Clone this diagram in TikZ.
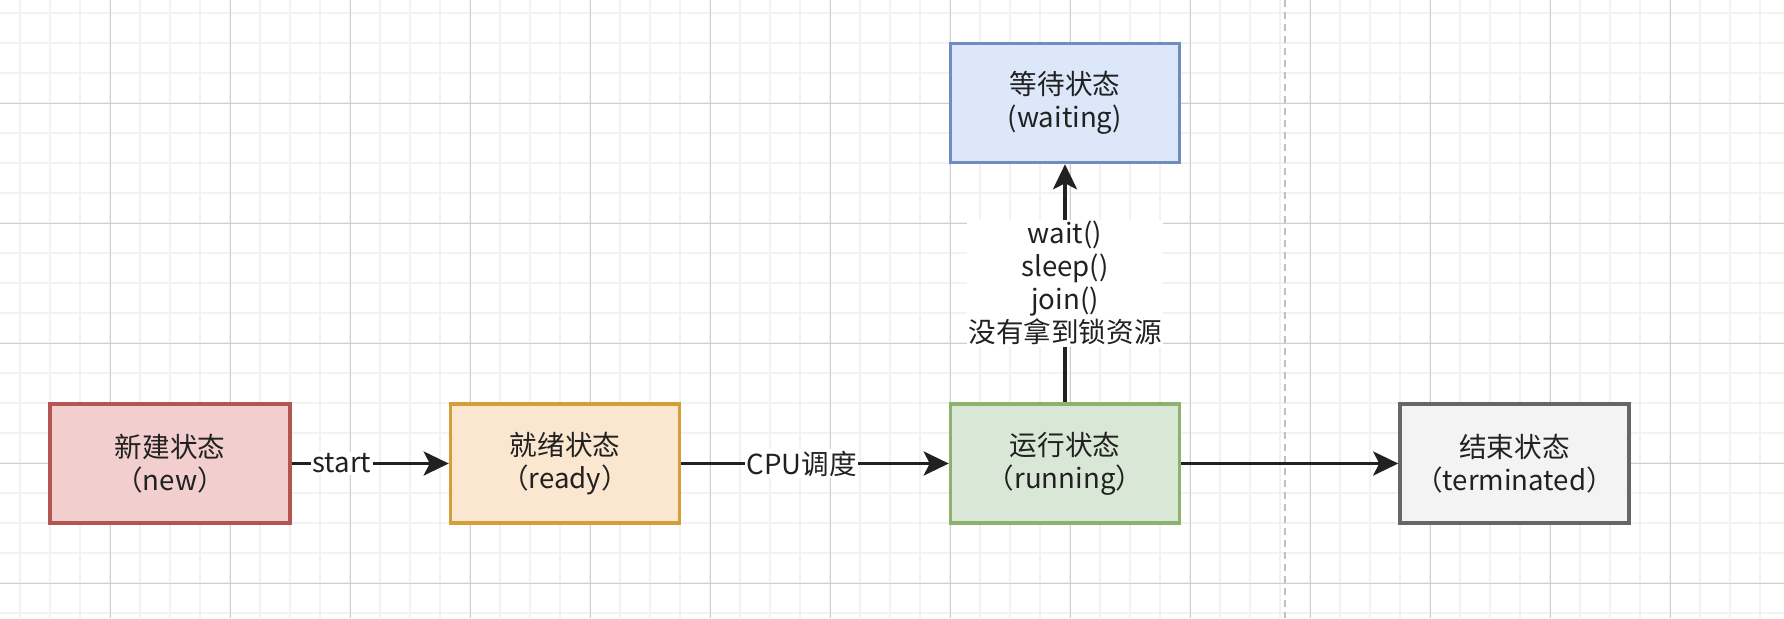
\documentclass[tikz,border=0pt]{standalone}
\usepackage{fontspec}
\setmainfont{Noto Sans CJK SC}
\usetikzlibrary{arrows.meta, positioning}

\definecolor{ink}{HTML}{212121}
\definecolor{newfill}{HTML}{F2CFCE}
\definecolor{newline}{HTML}{B35550}
\definecolor{readyfill}{HTML}{FBE6D0}
\definecolor{readyline}{HTML}{D49F38}
\definecolor{runfill}{HTML}{D9E7D6}
\definecolor{runline}{HTML}{8DB26D}
\definecolor{waitfill}{HTML}{DCE7F9}
\definecolor{waitline}{HTML}{6F8DBF}
\definecolor{endfill}{HTML}{F3F3F3}
\definecolor{endline}{HTML}{666666}

\tikzset{
  minorgrid/.style={line width=1pt, draw=black!5},
  majorgrid/.style={line width=0.5pt, draw=black!19},
  state/.style={rectangle, draw, line width=1.8pt, minimum width=114.5pt, minimum height=59.5pt,
    text=ink, align=center, font=\fontsize{13.8}{16.5}\selectfont},
  flow/.style={-{Stealth[length=12.5pt, width=12pt, inset=3pt]}, line width=1.7pt, draw=ink},
  lbl/.style={fill=white, inner sep=0.8pt, text=ink, align=center, font=\fontsize{13.8}{16.5}\selectfont},
  sepline/.style={line width=1pt, draw=black!25, dash pattern=on 3.5pt off 2.5pt}
}

\begin{document}
\begin{tikzpicture}[x=0.5pt, y=-0.5pt]
  \useasboundingbox (0,0) rectangle (1784,618);
  \fill[white] (0,0) rectangle (1784,618);

  % background grid
  \begin{scope}
    \clip (0,0) rectangle (1784,618);
    \foreach \gx in {20,50,...,1784} \draw[minorgrid] (\gx,0) -- (\gx,618);
    \foreach \gy in {13.3,43.3,...,618} \draw[minorgrid] (0,\gy) -- (1784,\gy);
    \foreach \gx in {110,230,...,1784} \draw[majorgrid] (\gx,0) -- (\gx,618);
    \foreach \gy in {103.3,223.3,...,618} \draw[majorgrid] (0,\gy) -- (1784,\gy);
  \end{scope}

  % separator
  \draw[sepline] (1285,0) -- (1285,618);

  % states
  \node[state, fill=newfill, draw=newline, minimum width=120pt] (new) at (170,463.5) {新建状态\\（new）};
  \node[state, fill=readyfill, draw=readyline] (ready) at (565,463.5) {就绪状态\\（ready）};
  \node[state, fill=runfill, draw=runline] (running) at (1065,463.5) {运行状态\\（running）};
  \node[state, fill=waitfill, draw=waitline] (waiting) at (1065,103) {等待状态\\(waiting)};
  \node[state, fill=endfill, draw=endline] (finish) at (1514.5,463.5) {结束状态\\（terminated）};

  % transitions
  \draw[flow] (new) -- node[lbl, pos=0.32] {start} (ready);
  \draw[flow] (ready) -- node[lbl, pos=0.45] {CPU调度} (running);
  \draw[flow] (running) -- node[lbl] {wait()\\sleep()\\join()\\没有拿到锁资源} (waiting);
  \draw[flow] (running) -- (finish);
\end{tikzpicture}
\end{document}
